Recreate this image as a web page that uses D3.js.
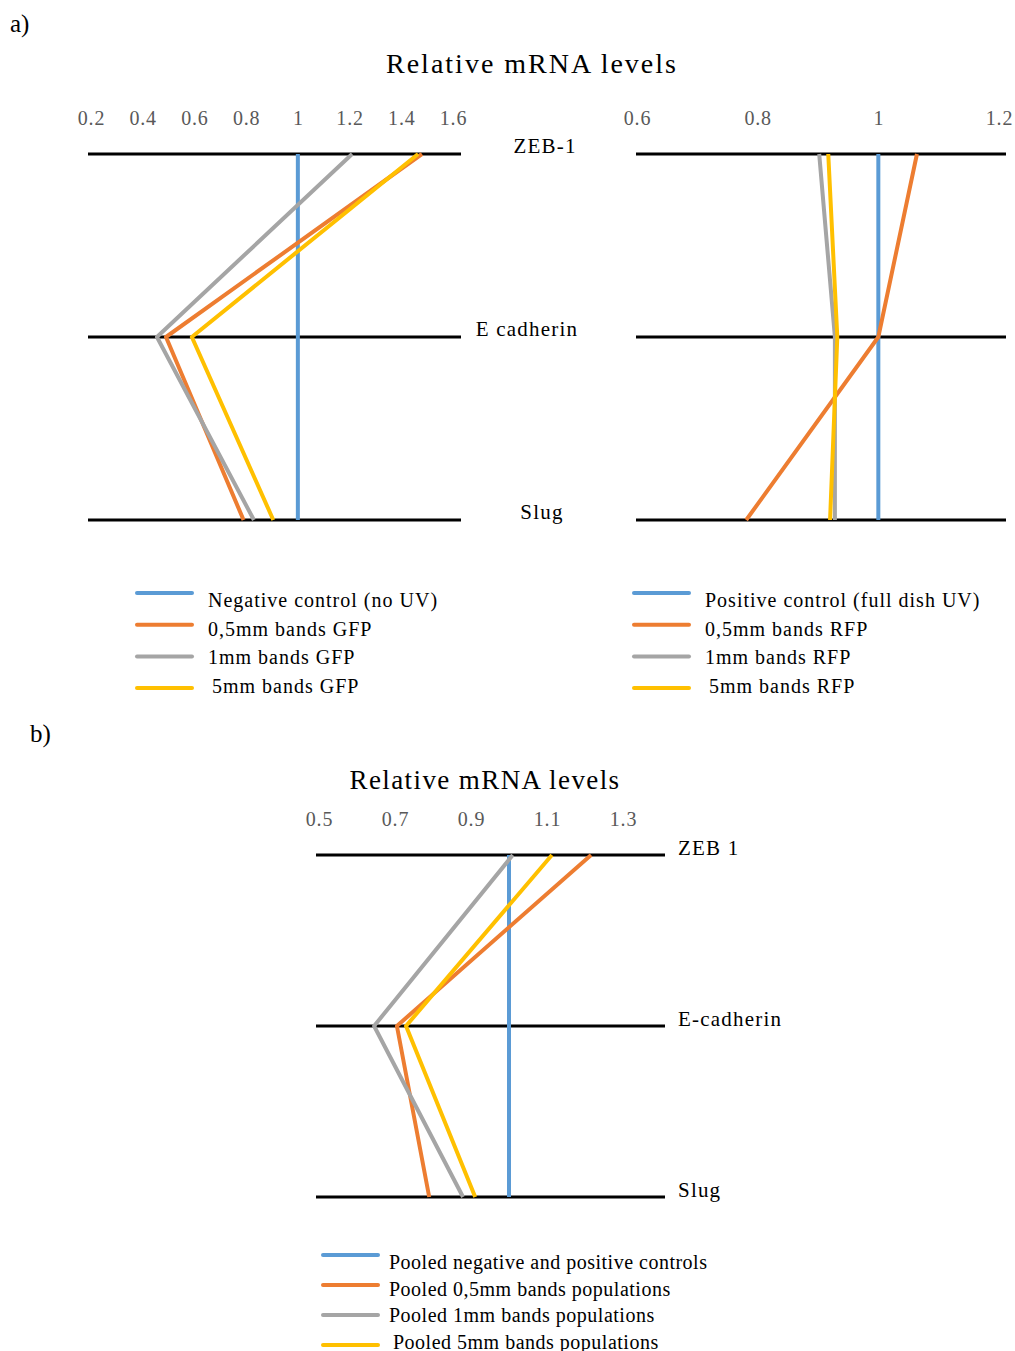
<!DOCTYPE html>
<html><head><meta charset="utf-8">
<script src="https://cdn.jsdelivr.net/npm/d3@7"></script>
<style>body{margin:0;background:#fff}svg{display:block}</style>
</head><body>
<script>
// ---- data ----
const categoriesA = ["ZEB-1", "E cadherin", "Slug"];
const categoriesB = ["ZEB 1", "E-cadherin", "Slug"];
const ticksLeft = [0.2, 0.4, 0.6, 0.8, 1, 1.2, 1.4, 1.6];
const ticksRight = [0.6, 0.8, 1, 1.2];
const ticksBottom = [0.5, 0.7, 0.9, 1.1, 1.3];

const seriesNamesLeft = ["Negative control (no UV)", "0,5mm bands GFP", "1mm bands GFP", "5mm bands GFP"];
const seriesNamesRight = ["Positive control (full dish UV)", "0,5mm bands RFP", "1mm bands RFP", "5mm bands RFP"];
const seriesNamesBottom = ["Pooled negative and positive controls", "Pooled 0,5mm bands populations", "Pooled 1mm bands populations", "Pooled 5mm bands populations"];

// values per series: [ZEB-1, E-cadherin, Slug]
const leftControl = [1, 1, 1];
const left05 = [1.48, 0.49, 0.79];
const left1 = [1.21, 0.455, 0.83];
const left5 = [1.465, 0.59, 0.905];

const rightControl = [1, 1, 1];
const right05 = [1.064, 1.0, 0.781];
const right1 = [0.902, 0.928, 0.928];
const right5 = [0.917, 0.932, 0.92];

const bottomControl = [1, 1, 1];
const bottom05 = [1.216, 0.705, 0.79];
const bottom1 = [1.01, 0.645, 0.879];
const bottom5 = [1.113, 0.729, 0.911];

const colors = ["#5B9BD5", "#ED7D31", "#A5A5A5", "#FFC000"];

// ---- drawing ----
const W = 1015, H = 1351;
const svg = d3.select("body").append("svg").attr("width", W).attr("height", H);
const serif = "'Liberation Serif', 'DejaVu Serif', serif";

function panel(cfg) {
  const x = d3.scaleLinear().domain(cfg.domain).range(cfg.range);
  const y = d3.scalePoint().domain(cfg.cats).range(cfg.yRange);
  const g = svg.append("g");
  const ax = d3.axisTop(x).tickValues(cfg.ticks).tickSize(0).tickFormat(d3.format("~g"));
  const axG = g.append("g").attr("transform", `translate(0,${cfg.tickY})`).call(ax);
  axG.select(".domain").remove();
  axG.selectAll("text").attr("fill", "#595959").style("font-family", serif)
    .style("font-size", "20px").style("letter-spacing", "0.8px");
  g.selectAll("line.cat").data(cfg.cats).join("line").attr("class", "cat")
    .attr("x1", cfg.lineX[0]).attr("x2", cfg.lineX[1])
    .attr("y1", d => y(d)).attr("y2", d => y(d))
    .attr("stroke", "#000").attr("stroke-width", 3);
  const line = d3.line().x(d => x(d.v)).y(d => y(d.c));
  cfg.series.forEach((s, i) => {
    g.append("path").datum(s.map((v, j) => ({ v, c: cfg.cats[j] })))
      .attr("d", line).attr("fill", "none").attr("stroke", colors[i])
      .attr("stroke-width", 4).attr("stroke-linejoin", "round");
  });
  if (cfg.labelX) {
    g.selectAll("text.cat").data(cfg.cats).join("text").attr("class", "cat")
      .attr("x", (d, i) => cfg.labelX[i]).attr("y", d => y(d) + cfg.labelDy)
      .attr("text-anchor", cfg.labelAnchor)
      .style("font-family", serif).style("font-size", "21px").style("letter-spacing", "1.2px")
      .attr("fill", "#000").text(d => d);
  }
  return { x, y };
}

function legend(names, lx, ly, ldy, ty, tdy, tx, ls) {
  const g = svg.append("g");
  names.forEach((n, i) => {
    const yy = ly + i * ldy;
    g.append("line").attr("x1", lx).attr("x2", lx + 55).attr("y1", yy).attr("y2", yy)
      .attr("stroke", colors[i]).attr("stroke-width", 4).attr("stroke-linecap", "round");
    g.append("text").attr("x", tx + (i === 3 ? 4 : 0)).attr("y", ty + i * tdy)
      .style("font-family", serif).style("font-size", "20px").style("letter-spacing", ls + "px")
      .attr("fill", "#000").text(n);
  });
}

svg.append("text").attr("x", 10).attr("y", 32).style("font-family", serif).style("font-size", "25px").text("a)");
svg.append("text").attr("x", 30).attr("y", 742).style("font-family", serif).style("font-size", "25px").text("b)");
svg.append("text").attr("x", 532).attr("y", 73).attr("text-anchor", "middle")
  .style("font-family", serif).style("font-size", "28px").style("letter-spacing", "2px").text("Relative mRNA levels");
svg.append("text").attr("x", 485).attr("y", 789).attr("text-anchor", "middle")
  .style("font-family", serif).style("font-size", "27px").style("letter-spacing", "1.4px").text("Relative mRNA levels");

panel({
  domain: [0.2, 1.6], range: [91, 453], cats: categoriesA, yRange: [154, 520],
  ticks: ticksLeft, tickY: 128, lineX: [88, 461],
  series: [leftControl, left05, left1, left5],
  labelX: [545, 527, 542], labelDy: -1, labelAnchor: "middle"
});
panel({
  domain: [0.6, 1.2], range: [637, 999], cats: categoriesA, yRange: [154, 520],
  ticks: ticksRight, tickY: 128, lineX: [636, 1006],
  series: [rightControl, right05, right1, right5],
  labelX: null
});
panel({
  domain: [0.5, 1.3], range: [319, 623], cats: categoriesB, yRange: [855, 1197],
  ticks: ticksBottom, tickY: 829, lineX: [316, 665],
  series: [bottomControl, bottom05, bottom1, bottom5],
  labelX: [678, 678, 678], labelDy: 0, labelAnchor: "start"
});

legend(seriesNamesLeft, 137, 593, 31.7, 607, 28.5, 208, 1);
legend(seriesNamesRight, 634, 593, 31.7, 607, 28.5, 705, 1);
legend(seriesNamesBottom, 323, 1255, 30, 1269, 26.5, 389, 0.5);
</script>
</body></html>
